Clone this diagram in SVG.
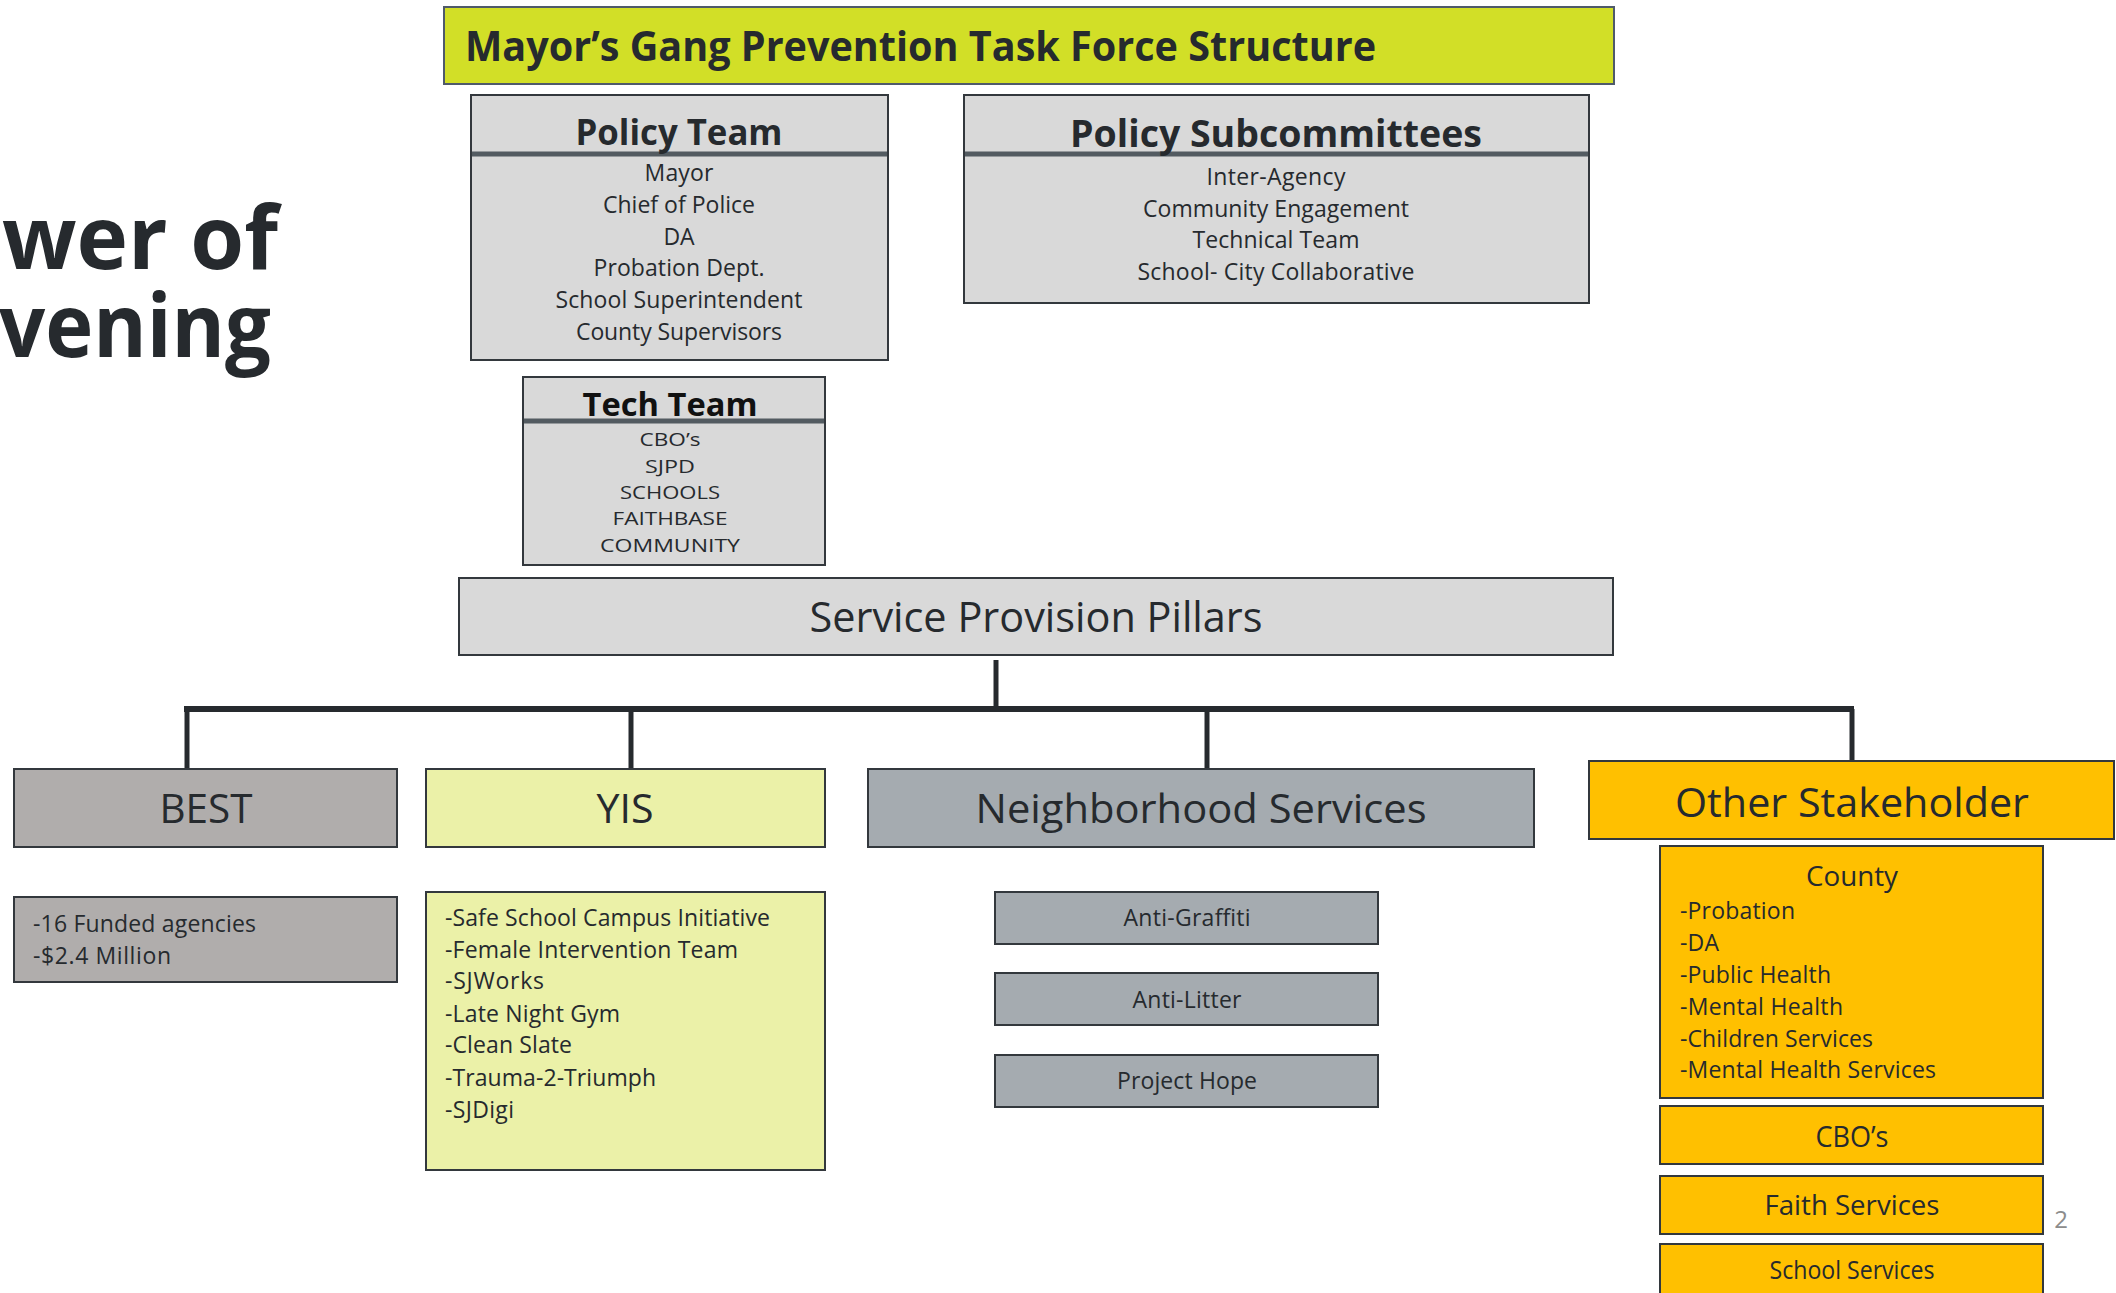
<svg xmlns="http://www.w3.org/2000/svg" width="2116" height="1293" viewBox="0 0 2116 1293">
<style>
text{font-family:"Open Sans","Noto Sans","DejaVu Sans",sans-serif;fill:#262a2e}
.b{stroke:#33383d;stroke-width:2}
.gray{fill:#d9d9d9}
.best{fill:#b0adac}
.yis{fill:#ebf1a8}
.nb{fill:#a5abb0}
.or{fill:#ffc000}
.hd{font-weight:bold}
.c{text-anchor:middle}
.item{font-size:23px}
.sm{font-size:19px}
.pil{font-size:41px}
.big{font-weight:bold;font-size:88px}
.div{stroke:#535b61;stroke-width:5}
.con{stroke:#262a2e;fill:none}
</style>
<rect width="2116" height="1293" fill="#ffffff"/>

<g id="side-title">
<text x="2" y="269" class="big" textLength="276" lengthAdjust="spacingAndGlyphs">wer of</text>
<text x="-1" y="357" class="big" textLength="272" lengthAdjust="spacingAndGlyphs">vening</text>
</g>

<g id="title">
<rect x="444" y="7" width="1170" height="77" fill="#d2df27" stroke="#4f5a6a" stroke-width="2"/>
<text x="465" y="61" class="hd" font-size="41" textLength="911" lengthAdjust="spacingAndGlyphs">Mayor’s Gang Prevention Task Force Structure</text>
</g>

<g id="policy-team">
<rect x="471" y="95" width="417" height="265" class="b gray"/>
<line x1="472" y1="154" x2="887" y2="154" class="div"/>
<text x="679" y="145" class="hd c" font-size="36" textLength="207" lengthAdjust="spacingAndGlyphs">Policy Team</text>
<text x="679" y="181" class="item c" textLength="69">Mayor</text>
<text x="679" y="213" class="item c" textLength="152">Chief of Police</text>
<text x="679" y="245" class="item c" textLength="31">DA</text>
<text x="679" y="276" class="item c" textLength="171">Probation Dept.</text>
<text x="679" y="308" class="item c" textLength="247">School Superintendent</text>
<text x="679" y="340" class="item c" textLength="206">County Supervisors</text>
</g>

<g id="policy-subcommittees">
<rect x="964" y="95" width="625" height="208" class="b gray"/>
<line x1="965" y1="154" x2="1588" y2="154" class="div"/>
<text x="1276" y="147" class="hd c" font-size="38" textLength="412" lengthAdjust="spacingAndGlyphs">Policy Subcommittees</text>
<text x="1276" y="185" class="item c" textLength="139">Inter-Agency</text>
<text x="1276" y="217" class="item c" textLength="266">Community Engagement</text>
<text x="1276" y="248" class="item c" textLength="167">Technical Team</text>
<text x="1276" y="280" class="item c" textLength="277">School- City Collaborative</text>
</g>

<g id="tech-team">
<rect x="523" y="377" width="302" height="188" class="b gray"/>
<line x1="524" y1="421" x2="824" y2="421" class="div"/>
<text x="670" y="416" class="hd c" font-size="32" textLength="175" lengthAdjust="spacingAndGlyphs" style="fill:#111">Tech Team</text>
<text x="670" y="446" class="sm c" textLength="61" lengthAdjust="spacingAndGlyphs">CBO’s</text>
<text x="670" y="473" class="sm c" textLength="50" lengthAdjust="spacingAndGlyphs">SJPD</text>
<text x="670" y="499" class="sm c" textLength="100" lengthAdjust="spacingAndGlyphs">SCHOOLS</text>
<text x="670" y="525" class="sm c" textLength="115" lengthAdjust="spacingAndGlyphs">FAITHBASE</text>
<text x="670" y="552" class="sm c" textLength="140" lengthAdjust="spacingAndGlyphs">COMMUNITY</text>
</g>

<g id="service-pillars">
<rect x="459" y="578" width="1154" height="77" class="b gray"/>
<text x="1036" y="632" class="c" font-size="42" textLength="453" lengthAdjust="spacingAndGlyphs">Service Provision Pillars</text>
</g>

<g id="connectors">
<line x1="996" y1="660" x2="996" y2="709" class="con" stroke-width="5"/>
<line x1="184" y1="709" x2="1854" y2="709" class="con" stroke-width="6"/>
<line x1="187" y1="709" x2="187" y2="769" class="con" stroke-width="5"/>
<line x1="631" y1="709" x2="631" y2="769" class="con" stroke-width="5"/>
<line x1="1207" y1="709" x2="1207" y2="769" class="con" stroke-width="5"/>
<line x1="1852" y1="709" x2="1852" y2="761" class="con" stroke-width="5"/>
</g>

<g id="best">
<rect x="14" y="769" width="383" height="78" class="b best"/>
<text x="206" y="823" class="pil c" textLength="93" lengthAdjust="spacingAndGlyphs">BEST</text>
</g>
<g id="best-detail">
<rect x="14" y="897" width="383" height="85" class="b best"/>
<text x="33" y="932" class="item" textLength="223">-16 Funded agencies</text>
<text x="33" y="964" class="item" textLength="138">-$2.4 Million</text>
</g>

<g id="yis">
<rect x="426" y="769" width="399" height="78" class="b yis"/>
<text x="625" y="823" class="pil c" textLength="57" lengthAdjust="spacingAndGlyphs">YIS</text>
</g>
<g id="yis-detail">
<rect x="426" y="892" width="399" height="278" class="b yis"/>
<text x="445" y="926" class="item" textLength="325">-Safe School Campus Initiative</text>
<text x="445" y="958" class="item" textLength="293">-Female Intervention Team</text>
<text x="445" y="989" class="item" textLength="99">-SJWorks</text>
<text x="445" y="1022" class="item" textLength="175">-Late Night Gym</text>
<text x="445" y="1053" class="item" textLength="127">-Clean Slate</text>
<text x="445" y="1086" class="item" textLength="211">-Trauma-2-Triumph</text>
<text x="445" y="1118" class="item" textLength="69">-SJDigi</text>
</g>

<g id="neighborhood">
<rect x="868" y="769" width="666" height="78" class="b nb"/>
<text x="1201" y="823" class="pil c" textLength="451" lengthAdjust="spacingAndGlyphs">Neighborhood Services</text>
</g>
<g id="anti-graffiti">
<rect x="995" y="892" width="383" height="52" class="b nb"/>
<text x="1187" y="926" class="item c" textLength="127">Anti-Graffiti</text>
</g>
<g id="anti-litter">
<rect x="995" y="973" width="383" height="52" class="b nb"/>
<text x="1187" y="1008" class="item c" textLength="109">Anti-Litter</text>
</g>
<g id="project-hope">
<rect x="995" y="1055" width="383" height="52" class="b nb"/>
<text x="1187" y="1089" class="item c" textLength="140">Project Hope</text>
</g>

<g id="other-stakeholder">
<rect x="1589" y="761" width="525" height="78" class="b or"/>
<text x="1852" y="817" class="pil c" textLength="354" lengthAdjust="spacingAndGlyphs">Other Stakeholder</text>
</g>
<g id="county">
<rect x="1660" y="846" width="383" height="252" class="b or"/>
<text x="1852" y="886" class="c" font-size="28" textLength="92" lengthAdjust="spacingAndGlyphs">County</text>
<text x="1680" y="919" class="item" textLength="115">-Probation</text>
<text x="1680" y="951" class="item" textLength="39">-DA</text>
<text x="1680" y="983" class="item" textLength="151">-Public Health</text>
<text x="1680" y="1015" class="item" textLength="163">-Mental Health</text>
<text x="1680" y="1047" class="item" textLength="193">-Children Services</text>
<text x="1680" y="1078" class="item" textLength="256">-Mental Health Services</text>
</g>
<g id="cbos">
<rect x="1660" y="1106" width="383" height="58" class="b or"/>
<text x="1852" y="1147" class="c" font-size="29" textLength="73" lengthAdjust="spacingAndGlyphs">CBO’s</text>
</g>
<g id="faith">
<rect x="1660" y="1176" width="383" height="58" class="b or"/>
<text x="1852" y="1215" class="c" font-size="28" textLength="175" lengthAdjust="spacingAndGlyphs">Faith Services</text>
</g>
<g id="school">
<rect x="1660" y="1244" width="383" height="60" class="b or"/>
<text x="1852" y="1279" class="c" font-size="25" textLength="165" lengthAdjust="spacingAndGlyphs">School Services</text>
</g>

<text x="2061" y="1228" class="c" font-size="24" style="fill:#8c8c8c">2</text>
</svg>
